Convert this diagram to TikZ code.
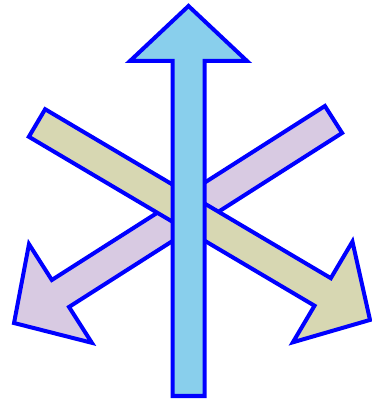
\documentclass[tikz,border=0pt]{standalone}
\usepackage{tikz}
\definecolor{skyfill}{RGB}{137,207,236}
\definecolor{olivefill}{RGB}{215,215,178}
\definecolor{lilacfill}{RGB}{216,202,226}

\begin{document}
\begin{tikzpicture}[x=0.025cm,y=0.025cm,
  fatarrow/.style={draw=blue,line width=0.1cm,line join=miter}]
\useasboundingbox (0,0) rectangle (372,401);
% purple arrow, upper right to lower left
\begin{scope}[shift={(333.5,281.5)},rotate=212.5]
\draw[fatarrow,fill=lilacfill] (0,-16) -- (323.8,-16) -- (323.8,-58.5) -- (378.8,0)
  -- (323.8,58.5) -- (323.8,16) -- (0,16) -- cycle;
\end{scope}
% olive arrow, upper left to lower right
\begin{scope}[shift={(37,278)},rotate=-30.6]
\draw[fatarrow,fill=olivefill] (0,-16) -- (331.9,-16) -- (331.9,-58.5) -- (386.9,0)
  -- (331.9,58.5) -- (331.9,16) -- (0,16) -- cycle;
\end{scope}
% vertical arrow
\begin{scope}[shift={(188.5,5)},rotate=90]
\draw[fatarrow,fill=skyfill] (0,-16) -- (335,-16) -- (335,-58.5) -- (390,0)
  -- (335,58.5) -- (335,16) -- (0,16) -- cycle;
\end{scope}
\end{tikzpicture}
\end{document}
